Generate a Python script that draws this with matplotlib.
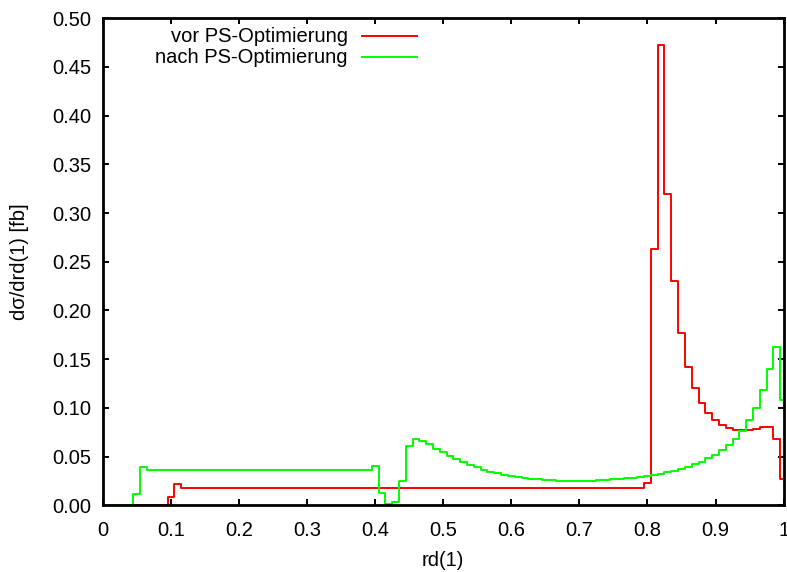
import numpy as np
import matplotlib
matplotlib.use("Agg")
import matplotlib.pyplot as plt


# bin centres of rd(1), 0.01 wide
RD_CENTERS = np.linspace(0, 1, 101)

RED_FLAT = [
    0.0178, 0.0177, 0.0178, 0.0178, 0.0177, 0.0178, 0.0179, 0.0178, 0.0177, 0.0178,
    0.0178, 0.0179, 0.0178, 0.0177, 0.0178, 0.0178, 0.0176, 0.0177, 0.0178, 0.0178,
    0.0179, 0.0178, 0.0177, 0.0178, 0.0179, 0.0178, 0.0177, 0.0178, 0.0178, 0.0177,
    0.0178, 0.0179, 0.0178, 0.0182, 0.0180, 0.0179, 0.0178, 0.0179, 0.0178, 0.0177,
    0.0178, 0.0178, 0.0177, 0.0178, 0.0178, 0.0177, 0.0178, 0.0177, 0.0178, 0.0178,
    0.0177, 0.0178, 0.0176, 0.0177, 0.0178, 0.0176, 0.0178, 0.0177, 0.0177, 0.0178,
    0.0177, 0.0178, 0.0177, 0.0177, 0.0178, 0.0177, 0.0177, 0.0178,
]
RED_TAIL = [
    0.0235, 0.263, 0.4725, 0.3195, 0.2305, 0.1768, 0.1425, 0.1205, 0.1048, 0.0948,
    0.0880, 0.0826, 0.0790, 0.0770, 0.0770, 0.0776, 0.0783, 0.0800, 0.0800, 0.0680,
    0.0270,
]
vor_ps = [0.0] * 10 + [0.009, 0.0222] + RED_FLAT + RED_TAIL

GREEN_FLAT = [
    0.0366, 0.0365, 0.0366, 0.0367, 0.0366, 0.0368, 0.0366, 0.0365, 0.0367, 0.0366,
    0.0368, 0.0366, 0.0365, 0.0366, 0.0367, 0.0366, 0.0366, 0.0367, 0.0368, 0.0366,
    0.0364, 0.0366, 0.0367, 0.0366, 0.0366, 0.0367, 0.0366, 0.0367, 0.0366, 0.0366,
    0.0367, 0.0366, 0.0366,
]
GREEN_TAIL = [
    0.0405, 0.0130, 0.0015, 0.0040, 0.0255, 0.0605, 0.0679, 0.0665, 0.0628, 0.0583,
    0.0549, 0.0511, 0.0477, 0.0443, 0.0415, 0.0392, 0.0368, 0.0347, 0.0330, 0.0313,
    0.0303, 0.0292, 0.0282, 0.0275, 0.0269, 0.0262, 0.0258, 0.0255, 0.0252, 0.0252,
    0.0251, 0.0252, 0.0255, 0.0258, 0.0262, 0.0267, 0.0272, 0.0278, 0.0285, 0.0296,
    0.0303, 0.0313, 0.0327, 0.0340, 0.0357, 0.0378, 0.0398, 0.0423, 0.0450, 0.0484,
    0.0518, 0.0567, 0.0621, 0.0680, 0.0768, 0.0878, 0.1004, 0.1186, 0.1400, 0.1630,
    0.1080,
]
nach_ps = [0.0] * 5 + [0.0113, 0.0392] + GREEN_FLAT + GREEN_TAIL

LABELS = ["vor PS-Optimierung", "nach PS-Optimierung"]
COLORS = ["#ff0000", "#00ff00"]
X_TICKS = [0, 0.1, 0.2, 0.3, 0.4, 0.5, 0.6, 0.7, 0.8, 0.9, 1]
Y_TICKS = [0, 0.05, 0.10, 0.15, 0.20, 0.25, 0.30, 0.35, 0.40, 0.45, 0.50]


plt.rcParams['font.family'] = ['Liberation Sans', 'DejaVu Sans']
plt.rcParams['font.size'] = 14.5

fig = plt.figure(figsize=(7.87, 5.72), dpi=100)
ax = fig.add_axes([0.1307, 0.1163, 0.865, 0.8522])

for vals, col in zip([vor_ps, nach_ps], COLORS):
    ax.step(RD_CENTERS, vals, where="mid", color=col, linewidth=1.4)

ax.set_xlim(0, 1)
ax.set_ylim(0, 0.5)
ax.set_xticks(X_TICKS)
ax.set_xticklabels([f"{t:g}" for t in X_TICKS])
ax.set_yticks(Y_TICKS)
ax.set_yticklabels([f"{t:.2f}" for t in Y_TICKS])
ax.tick_params(direction="in", top=True, right=True, length=4.5, width=1.4)
ax.tick_params(axis="x", pad=11)
ax.tick_params(axis="y", pad=8)
for sp in ax.spines.values():
    sp.set_linewidth(2.0)
    sp.set_zorder(3)

ax.set_xlabel("rd(1)", labelpad=8)
ax.set_ylabel("dσ/drd(1) [fb]", labelpad=17)

# gnuplot-style key: right-aligned text, sample line to the right
for i, (lab, col) in enumerate(zip(LABELS, COLORS)):
    yy = 0.963 - i * 0.043
    ax.text(0.360, yy, lab, transform=ax.transAxes, ha="right", va="center")
    ax.plot([0.380, 0.461], [yy, yy], transform=ax.transAxes, color=col, linewidth=1.4)

fig.savefig("out.png", dpi=100)
